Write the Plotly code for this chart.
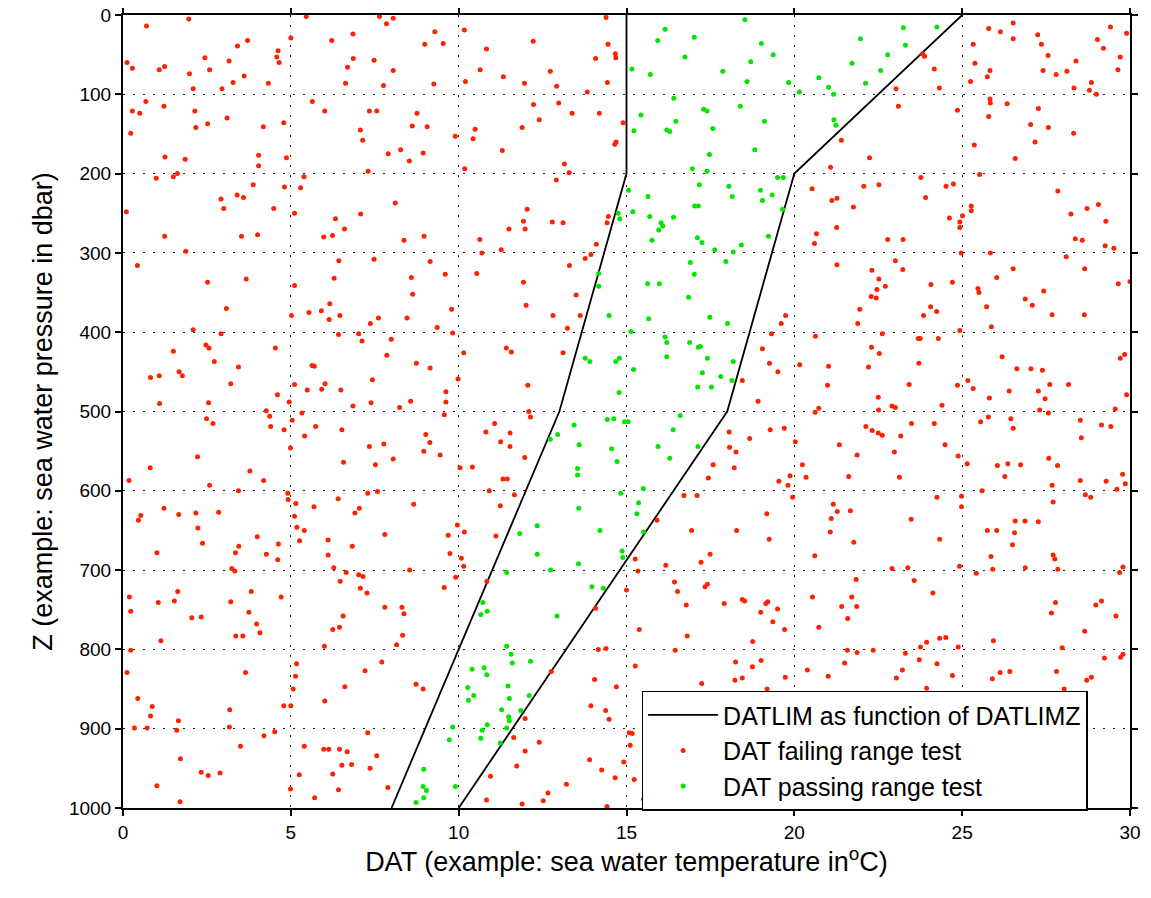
import plotly.graph_objects as go

# Limit curves (DATLIM as function of DATLIMZ)
datlimz = [0, 200, 500, 1000]
datlim_low = [15, 15, 13, 8]
datlim_high = [25, 20, 18, 10]

# DAT values failing the range test: (temperature, pressure)
fail_points = [
(0.70,14),(1.96,5),(5.46,2),(5.0,29),(3.71,32),(3.41,39),(4.62,45),(4.58,53),(4.65,60),(6.22,32),(6.85,24),(6.86,55),(6.69,66),(6.63,86),(0.12,60),(0.28,67),(1.08,69),(1.24,65),(2.44,54),(3.16,58),(2.58,69),(1.98,74),(3.61,77),(3.28,85),(4.33,86),(2.09,93),(2.95,93),(0.68,109),(0.28,121),(0.50,124),(1.22,115),(2.14,121),(2.17,142),(2.52,137),(3.10,130),(4.18,141),(4.79,136),(5.64,109),(6.01,121),(7.34,121),(7.07,145),(7.14,158),(0.23,149),(1.25,179),(1.85,182),(4.04,177),(4.04,190),(4.87,180),(0.99,206),(1.50,204),(1.62,200),(3.88,214),(4.81,217),(5.39,204),(5.29,218),(7.30,197),(2.92,232),(3.40,227),(3.59,230),(3.00,244),(4.49,244),(5.11,250),(0.10,248),(6.33,257),(6.60,270),(7.08,251),(6.24,278),(5.98,280),(1.24,279),(3.53,279),(4.01,277),(1.87,298),(0.43,316),(6.43,310),
(7.64,2),(8.05,4),(7.85,11),(9.29,21),(8.99,37),(9.54,36),(10.17,19),(10.83,43),(12.22,33),(14.39,3),(14.45,37),(14.67,49),(14.68,54),(14.08,55),(7.48,57),(8.05,70),(7.76,89),(9.26,87),(10.20,84),(10.64,69),(11.33,78),(11.96,86),(12.73,71),(12.92,90),(13.83,97),(14.43,85),(7.56,121),(8.76,124),(8.62,140),(9.06,141),(9.90,153),(10.49,144),(10.43,156),(12.23,113),(12.40,132),(11.89,142),(12.98,111),(13.38,124),(14.19,124),(14.90,136),(14.69,160),(14.65,163),(7.90,175),(8.27,170),(8.53,184),(8.94,174),(11.30,171),(10.18,194),(13.15,188),(13.29,199),(12.91,208),(8.11,237),(12.04,245),(11.93,260),(11.98,270),(11.50,270),(12.79,261),(13.11,262),(14.46,254),(14.42,262),(8.37,284),(8.97,279),(10.63,283),(10.69,300),(11.27,296),(7.48,308),(9.15,311),(9.60,327),(10.54,326),(8.59,331),(14.10,289),(13.94,302),(13.77,307),(13.30,316),
(21.40,158),(22.24,180),(21.08,192),(20.53,219),(22.07,216),(21.12,234),(21.27,231),(21.76,242),(21.26,268),(20.66,276),(20.60,288),(21.27,315),(22.31,322),
(23.82,49),(23.88,52),(24.17,68),(23.03,93),(24.32,92),(23.10,115),(24.86,120),(25.33,37),(25.79,17),(26.14,21),(26.52,10),(26.52,30),(27.25,25),(27.36,37),(27.56,51),(25.38,61),(25.83,70),(25.75,78),(25.25,84),(27.41,70),(27.80,75),(28.12,71),(28.39,58),(28.33,92),(28.85,85),(28.79,95),(29.00,100),(29.42,15),(29.03,31),(29.21,42),(29.71,53),(29.64,69),(29.90,23),(25.83,106),(25.84,111),(25.79,128),(26.34,112),(27.27,118),(27.04,138),(27.57,142),(28.32,149),(27.17,160),(25.36,164),(26.58,181),(25.52,201),(22.52,214),(23.77,205),(24.52,216),(24.74,213),(23.91,230),(27.85,222),(25.27,241),(25.27,247),(25.01,253),(24.93,261),(24.93,268),(24.62,256),(28.24,251),(28.72,244),(29.06,239),(29.28,260),(22.78,283),(23.24,283),(24.97,300),(25.84,300),(28.10,305),(28.37,282),(28.58,284),(29.26,291),(29.52,294),(23.01,310),(23.23,321),(26.52,320),(28.65,320),(26.03,331),
(2.52,337),(3.67,333),(6.29,332),(5.11,341),(3.08,370),(5.02,379),(5.54,375),(5.91,373),(6.16,364),(6.14,384),(6.46,379),(7.37,389),(2.09,397),(2.92,402),(6.42,403),(7.02,402),(7.12,411),(1.50,424),(2.47,416),(2.56,420),(4.54,420),(2.72,437),(3.44,444),(1.67,450),(1.77,455),(0.82,457),(1.08,455),(3.21,465),(5.63,442),(5.70,443),(5.11,466),(5.49,473),(5.92,472),(6.02,465),(6.49,473),(7.43,460),(4.60,479),(4.95,488),(1.09,490),(2.55,489),(6.85,493),(7.39,489),(4.27,499),(4.37,506),(5.04,511),(5.33,502),(2.49,509),(2.68,515),(4.40,519),(4.80,523),(5.41,531),(5.74,519),(6.52,523),(7.34,544),(4.99,546),(2.22,557),(0.81,571),(6.57,564),(0.18,587),(3.78,575),(2.58,593),(4.19,587),(3.44,600),(4.91,603),(4.92,611),(5.15,616),(7.29,603),(6.41,610),(5.69,620),(7.04,622),(6.91,628),(1.22,622),(0.53,631),(0.46,637),(1.66,630),(2.17,628),(2.85,627),(2.23,647),(5.11,632),(5.18,646),(5.40,650),(4.00,658),(2.37,666),(3.45,670),(4.63,667),(5.26,663),(6.11,662),(6.83,670),
(1.01,678),(3.35,678),(4.27,680),(4.61,687),(6.11,681),(6.28,697),(6.65,703),(3.24,698),(3.33,701),(6.47,714),(7.02,706),(7.15,708),(7.07,723),(7.27,729),(0.19,734),(0.23,752),(1.05,741),(1.53,739),(1.63,727),(3.21,740),(3.82,727),(4.71,734),(3.75,753),(2.05,760),(2.33,759),(3.98,768),(4.08,779),(3.36,783),(3.57,783),(1.13,789),(0.23,801),(6.56,758),(6.45,772),(6.25,775),(6.00,796),(5.17,818),(5.14,834),(5.07,850),(4.79,871),(5.00,871),(3.65,829),(7.21,827),(6.61,847),(6.01,865),(0.12,829),(0.44,862),(0.87,872),(0.82,884),(1.65,890),(3.18,876),(0.34,899),(0.72,899),(1.60,902),(3.17,898),(4.20,909),(4.52,904),(7.29,905),(3.50,922),(5.40,922),(5.98,926),(6.13,926),(6.45,926),(6.68,929),(1.71,938),(2.33,955),(2.54,959),(2.89,956),(6.52,946),(6.81,945),(6.25,957),(7.36,950),(5.25,958),(1.01,972),(4.99,976),(6.42,977),(5.71,987),(1.70,992),
(8.63,352),(9.79,371),(11.93,337),(12.01,366),(13.50,353),(12.81,379),(13.62,379),(13.24,395),(7.61,382),(8.46,382),(9.36,394),(9.82,401),(7.99,409),(7.86,429),(8.74,439),(9.15,445),(10.15,426),(11.42,420),(11.57,425),(13.11,426),(9.98,459),(9.62,475),(9.62,488),(8.57,487),(8.24,495),(12.06,467),(9.57,504),(12.09,500),(12.14,507),(11.07,515),(10.81,526),(11.53,527),(11.25,538),(11.53,544),(9.02,529),(9.14,539),(8.96,550),(9.45,555),(7.77,541),(8.05,560),(7.52,567),(10.04,571),(10.41,570),(11.97,558),(11.32,585),(11.45,585),(7.58,601),(10.91,600),(11.66,605),(8.66,617),(11.24,619),(9.96,643),(10.17,652),(9.69,656),(7.80,655),(11.11,657),
(19.74,379),(19.61,389),(19.32,402),(19.05,421),(19.26,439),(19.51,450),(18.45,461),(18.92,487),(20.63,405),(20.16,441),(21.02,443),(20.99,467),(20.73,496),(20.62,501),(21.95,371),(21.89,389),(22.29,355),(22.30,419),(22.21,444),(18.06,526),(19.28,523),(19.70,521),(18.67,534),(18.07,545),(18.26,551),(17.58,567),(18.21,571),(17.44,584),(20.03,538),(21.34,542),(21.87,555),(22.13,519),(22.32,524),(20.24,567),(20.35,583),(21.62,582),(19.87,581),(19.54,588),(19.81,593),(19.95,608),(16.71,606),(17.10,606),(21.16,617),(21.28,626),(21.67,625),(21.10,635),(21.07,652),(19.18,629),(15.91,637),(16.94,650),(18.28,650),(19.25,661),(21.77,665),
(22.52,333),(22.46,346),(22.71,342),(22.44,357),(24.07,340),(24.71,337),(25.47,345),(25.50,350),(25.73,368),(24.06,368),(24.24,374),(23.85,379),(26.88,358),(27.09,366),(27.43,348),(27.68,378),(28.64,378),(29.65,339),(30.0,336),(25.87,393),(24.93,398),(22.62,402),(23.69,408),(23.75,408),(24.29,408),(22.53,427),(23.71,439),(26.19,431),(26.63,446),(27.05,446),(27.39,448),(27.61,466),(28.17,466),(27.27,474),(27.47,484),(26.40,474),(25.81,483),(25.17,461),(25.33,471),(24.86,467),(23.42,466),(22.50,482),(29.71,433),(29.84,428),(29.90,479),(22.91,493),(23.01,495),(22.51,498),(24.40,492),(27.31,498),(27.57,502),(29.56,497),(25.55,513),(25.78,507),(26.45,509),(26.52,521),(28.52,511),(29.15,517),(29.43,519),(28.55,533),(23.49,515),(24.17,515),(22.50,527),(22.62,530),(23.17,531),(24.49,542),(22.98,551),(24.88,556),(25.15,566),(26.05,568),(26.36,566),(26.74,567),(26.27,582),(27.58,559),(27.84,568),(27.68,593),(28.52,587),(29.29,588),(29.78,579),(29.86,591),(29.61,598),(23.13,583),(25.59,600),(24.25,608),(24.98,607),(24.98,620),(28.67,605),(28.83,608),(27.71,614),(23.48,636),(26.58,638),(26.87,638),(27.27,639),(25.75,650),(26.03,650),(26.56,653),(24.33,661),(26.50,668),
(9.74,679),(10.08,685),(10.15,695),(8.54,700),(9.91,709),(9.57,722),(10.84,714),(7.80,747),(8.31,747),(8.37,755),(8.33,782),(8.15,794),(7.71,816),(8.73,844),(8.94,850),(7.56,934),(7.89,974),(14.08,748),(14.16,800),(14.39,799),(12.76,828),(14.05,838),(14.70,847),(13.94,871),(14.38,877),(14.48,888),(11.98,887),(11.64,911),(12.40,917),(11.98,928),(13.90,939),(14.92,942),(14.26,952),(14.66,962),(11.73,947),(10.95,960),(13.21,970),(12.66,981),(10.83,990),(11.89,995),(12.52,991),(14.42,998),
(15.26,686),(15.34,701),(15.00,725),(16.17,694),(17.22,690),(17.49,680),(16.43,715),(16.52,727),(16.78,744),(17.34,721),(17.41,718),(17.91,742),(18.45,737),(18.52,739),(19.15,742),(19.21,740),(19.50,749),(19.00,753),(19.36,765),(19.71,775),(18.76,790),(15.38,775),(16.81,783),(16.45,801),(18.25,816),(19.01,814),(18.75,822),(18.45,836),(18.23,839),(19.73,835),(17.24,843),(19.19,850),(15.26,821),(20.61,682),(21.84,712),(20.54,734),(21.71,734),(21.41,746),(21.86,746),(21.59,761),(20.73,772),(21.58,801),(21.87,804),(22.35,801),(21.50,817),(20.39,826),(21.01,834),(15.08,905),(15.17,906),(15.11,921),(15.23,964),(15.51,989),(16.94,989),(21.32,997),(21.71,988),
(25.86,683),(27.71,681),(27.76,686),(22.91,698),(23.38,697),(24.92,695),(25.42,704),(25.91,699),(26.88,697),(27.85,699),(29.79,696),(29.69,703),(23.57,713),(24.13,729),(27.78,741),(27.66,754),(28.98,744),(29.15,739),(29.58,758),(28.65,777),(25.93,789),(27.98,798),(23.76,797),(23.94,791),(24.33,786),(24.51,785),(24.88,797),(23.31,805),(23.72,813),(24.25,818),(23.22,826),(23.04,836),(24.71,833),(25.90,837),(26.13,829),(26.42,828),(27.81,828),(29.24,811),(29.72,810),(29.79,806),(28.71,839),(28.85,835),(28.04,850),(23.94,849),(25.84,990),(27.29,992),(28.00,997),
]

# DAT values passing the range test: (temperature, pressure)
pass_points = [
(14.75,250),(14.80,257),(14.17,326),
(18.53,6),(16.15,18),(15.93,32),(17.02,28),(16.74,53),(19.02,36),(19.37,50),(18.70,59),(15.16,68),(15.71,75),(17.87,71),(18.59,84),(19.83,85),(20.15,97),(20.73,79),(21.02,91),(21.17,100),(21.72,61),(21.97,30),(22.12,86),(16.41,105),(17.30,119),(17.40,121),(18.39,115),(15.43,126),(16.47,134),(16.20,145),(16.29,147),(15.22,146),(17.57,143),(19.11,134),(21.18,132),(21.24,139),(18.82,170),(17.47,176),(16.96,194),(17.40,197),(19.50,205),(19.67,205),(15.06,221),(15.64,229),(17.17,214),(18.05,216),(18.15,229),(18.99,221),(19.34,227),(19.05,234),(19.65,245),(15.19,248),(15.69,254),(16.40,255),(17.03,241),(17.14,241),(16.03,262),(16.08,266),(15.96,271),(15.76,284),(17.11,281),(17.25,287),(17.63,296),(18.18,299),(18.42,290),(19.23,279),(16.90,312),(17.96,311),(17.02,327),
(23.25,16),(24.25,15),(23.31,38),(22.78,50),(22.57,70),
(14.17,342),(14.48,379),(13.77,433),(13.91,437),(14.68,437),(14.79,433),(14.78,476),(14.43,510),(14.62,509),(14.94,513),(13.44,517),(12.95,529),(12.73,535),(13.59,542),(14.56,547),(14.72,563),(13.54,572),(13.54,580),(14.83,603),(13.58,622),(12.34,644),(11.82,654),(14.21,650),
(15.63,339),(15.98,339),(16.85,356),(15.66,383),(17.48,381),(18.01,389),(15.13,399),(16.15,406),(16.20,413),(16.88,413),(17.14,419),(17.20,418),(16.20,431),(17.41,433),(15.21,447),(17.26,451),(18.18,437),(17.81,456),(18.14,461),(17.12,469),(17.53,469),(16.60,505),(15.05,513),(16.39,523),(15.94,544),(17.13,544),(16.29,559),(15.50,597),(15.36,615),(15.31,629),(15.51,652),
(12.34,680),(13.57,692),(12.74,700),(11.43,703),(13.97,721),(14.31,723),(14.87,676),(14.89,684),(10.72,741),(10.66,756),(10.85,752),(12.93,758),(11.43,796),(11.56,806),(11.60,817),(12.14,815),(10.40,825),(10.76,823),(10.84,832),(10.27,848),(10.45,858),(10.29,864),(11.47,846),(11.51,862),(12.10,858),(11.28,876),(11.85,877),(11.49,885),(11.51,890),(10.85,895),(11.43,899),(9.82,898),(10.70,902),(10.66,912),(9.72,914),(11.24,918),(8.96,951),(8.94,973),(9.04,978),(9.90,973),(8.96,987),(8.73,993),
]

x_ticks = [0, 5, 10, 15, 20, 25, 30]
z_ticks = [0, 100, 200, 300, 400, 500, 600, 700, 800, 900, 1000]

FONT = "Liberation Sans, Arial, Helvetica, sans-serif"

fail_x = [p[0] for p in fail_points]
fail_z = [p[1] for p in fail_points]
pass_x = [p[0] for p in pass_points]
pass_z = [p[1] for p in pass_points]

line_x = datlim_low + [None] + datlim_high
line_z = datlimz + [None] + datlimz

fig = go.Figure()
fig.add_trace(go.Scatter(
    x=line_x, y=line_z, mode="lines", connectgaps=False,
    line=dict(color="black", width=1.8),
    name="DATLIM as function of DATLIMZ"))
fig.add_trace(go.Scatter(
    x=fail_x, y=fail_z, mode="markers",
    marker=dict(color="#ff2200", size=5),
    name="DAT failing range test"))
fig.add_trace(go.Scatter(
    x=pass_x, y=pass_z, mode="markers",
    marker=dict(color="#00e600", size=5),
    name="DAT passing range test"))

axis_common = dict(
    showline=True, linecolor="black", linewidth=2, mirror="allticks",
    ticks="outside", ticklen=6, tickwidth=2, tickcolor="black",
    showgrid=True, gridcolor="#222222", gridwidth=1, griddash="2px,8px",
    zeroline=False, automargin=False, ticklabeloverflow="allow",
    tickfont=dict(family=FONT, size=19, color="black"),
)

fig.update_xaxes(
    range=[0, 30], tickvals=x_ticks,
    title=dict(text="DAT (example: sea water temperature in<sup>o</sup>C)",
               font=dict(family=FONT, size=27, color="black"), standoff=4),
    **axis_common)
fig.update_yaxes(
    range=[1000, 0], tickvals=z_ticks,
    title=dict(text="Z (example: sea water pressure in dbar)",
               font=dict(family=FONT, size=27, color="black"), standoff=8),
    **axis_common)

fig.update_layout(
    width=1151, height=898,
    margin=dict(l=115, r=29, t=7, b=98),
    plot_bgcolor="white", paper_bgcolor="white",
    font=dict(family=FONT, color="black"),
    showlegend=True,
    legend=dict(
        x=0.515, y=0.148, xanchor="left", yanchor="top",
        bgcolor="white", bordercolor="black", borderwidth=1.5,
        font=dict(family=FONT, size=25, color="black"),
        tracegroupgap=0, itemwidth=70,
    ),
)

fig.write_html("out.html")
